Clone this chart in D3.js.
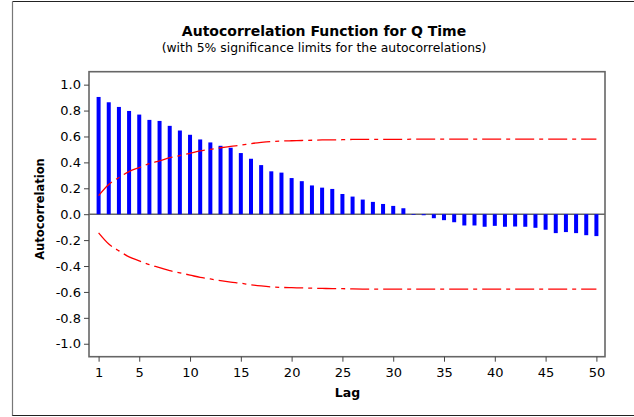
<!DOCTYPE html>
<html>
<head>
<meta charset="utf-8">
<script src="https://cdn.jsdelivr.net/npm/d3@7"></script>
<style>
  body { margin: 0; background: #fff; }
  svg text { font-family: "DejaVu Sans", sans-serif; fill: #000; }
</style>
</head>
<body>
<div id="chart"></div>
<script>
// lags 1..50 and autocorrelations
const lags = d3.range(1, 51);
const acf = [
  0.905, 0.864, 0.828, 0.797, 0.769, 0.728, 0.720, 0.682, 0.646, 0.613,
  0.577, 0.554, 0.528, 0.513, 0.472, 0.428, 0.379, 0.331, 0.321, 0.279,
  0.255, 0.222, 0.205, 0.195, 0.156, 0.136, 0.113, 0.095, 0.079, 0.064,
  0.046, -0.005, -0.008, -0.031, -0.046, -0.062, -0.087, -0.087, -0.097, -0.090,
  -0.097, -0.095, -0.097, -0.105, -0.120, -0.146, -0.138, -0.146, -0.162, -0.169
];
// 5% significance limit (upper; lower is the negative)
const sigLimit = [
  0.144, 0.230, 0.283, 0.329, 0.360, 0.390, 0.412, 0.436, 0.453, 0.470,
  0.488, 0.500, 0.513, 0.524, 0.533, 0.545, 0.554, 0.561, 0.565, 0.567,
  0.569, 0.571, 0.573, 0.574, 0.575, 0.577, 0.578, 0.578, 0.578, 0.578,
  0.578, 0.579, 0.579, 0.579, 0.579, 0.579, 0.579, 0.579, 0.579, 0.579,
  0.579, 0.579, 0.579, 0.579, 0.579, 0.579, 0.579, 0.579, 0.579, 0.579
];
const xTicks = [1, 5, 10, 15, 20, 25, 30, 35, 40, 45, 50];
const yTicks = [-1.0, -0.8, -0.6, -0.4, -0.2, 0.0, 0.2, 0.4, 0.6, 0.8, 1.0];

const W = 634, H = 417;
const frame = {left: 89, right: 605, top: 71.7, bottom: 356.7};

const svg = d3.select("#chart").append("svg")
  .attr("width", W).attr("height", H);

// outer border
svg.append("line").attr("x1", 12.5).attr("x2", 634).attr("y1", 1.5).attr("y2", 1.5)
  .attr("stroke", "#222").attr("stroke-width", 1.2);
svg.append("line").attr("x1", 12.5).attr("x2", 12.5).attr("y1", 1.5).attr("y2", 416)
  .attr("stroke", "#777").attr("stroke-width", 1.2);
svg.append("line").attr("x1", 12.5).attr("x2", 634).attr("y1", 415.5).attr("y2", 415.5)
  .attr("stroke", "#222").attr("stroke-width", 1.2);

const x = d3.scaleLinear().domain([1, 50]).range([98.6, 596.4]);
const y = d3.scaleLinear().domain([-1.1, 1.1]).range([frame.bottom, frame.top]);

// titles
svg.append("text").attr("x", 324).attr("y", 35.5)
  .attr("text-anchor", "middle").style("font-size", "14px").style("font-weight", "bold")
  .text("Autocorrelation Function for Q Time");
svg.append("text").attr("x", 324).attr("y", 51.5)
  .attr("text-anchor", "middle").style("font-size", "12.4px")
  .text("(with 5% significance limits for the autocorrelations)");

// frame
svg.append("rect")
  .attr("x", frame.left).attr("y", frame.top)
  .attr("width", frame.right - frame.left).attr("height", frame.bottom - frame.top)
  .attr("fill", "none").attr("stroke", "#666").attr("stroke-width", 1.6);

// zero line
svg.append("line")
  .attr("x1", frame.left).attr("x2", frame.right)
  .attr("y1", y(0)).attr("y2", y(0))
  .attr("stroke", "#666").attr("stroke-width", 1.5);

// bars
svg.append("g").selectAll("rect")
  .data(lags)
  .join("rect")
  .attr("x", d => x(d) - 2)
  .attr("width", 4)
  .attr("y", (d, i) => y(Math.max(0, acf[i])))
  .attr("height", (d, i) => Math.abs(y(acf[i]) - y(0)))
  .attr("fill", "#0000ff");

// significance limits
const upper = d3.line().x(d => x(d)).y((d, i) => y(sigLimit[i])).curve(d3.curveMonotoneX);
const lower = d3.line().x(d => x(d)).y((d, i) => y(-sigLimit[i])).curve(d3.curveMonotoneX);
[upper, lower].forEach(fn => {
  svg.append("path")
    .attr("d", fn(lags))
    .attr("fill", "none")
    .attr("stroke", "#ff0000")
    .attr("stroke-width", 1.3)
    .attr("stroke-dasharray", "19,5,4,5");
});

// y axis
const yAxis = svg.append("g")
  .attr("transform", `translate(${frame.left},0)`)
  .call(d3.axisLeft(y).tickValues(yTicks).tickSize(5).tickPadding(3)
    .tickFormat(d => d.toFixed(1)));
yAxis.select(".domain").remove();
yAxis.selectAll(".tick line").attr("stroke", "#444");
yAxis.selectAll("text").style("font-size", "13px").style("font-family", "DejaVu Sans").attr("fill", "#000");

// x axis
const xAxis = svg.append("g")
  .attr("transform", `translate(0,${frame.bottom})`)
  .call(d3.axisBottom(x).tickValues(xTicks).tickSize(5).tickPadding(6));
xAxis.select(".domain").remove();
xAxis.selectAll(".tick line").attr("stroke", "#444");
xAxis.selectAll("text").style("font-size", "13px").style("font-family", "DejaVu Sans").attr("fill", "#000");

// axis labels
svg.append("text").attr("x", x(25.5)).attr("y", 396.5)
  .attr("text-anchor", "middle").style("font-size", "12.5px").style("font-weight", "bold")
  .text("Lag");
svg.append("text")
  .attr("transform", "translate(43.5,209) rotate(-90)")
  .attr("text-anchor", "middle").style("font-size", "11.5px").style("font-weight", "bold")
  .text("Autocorrelation");
</script>
</body>
</html>
